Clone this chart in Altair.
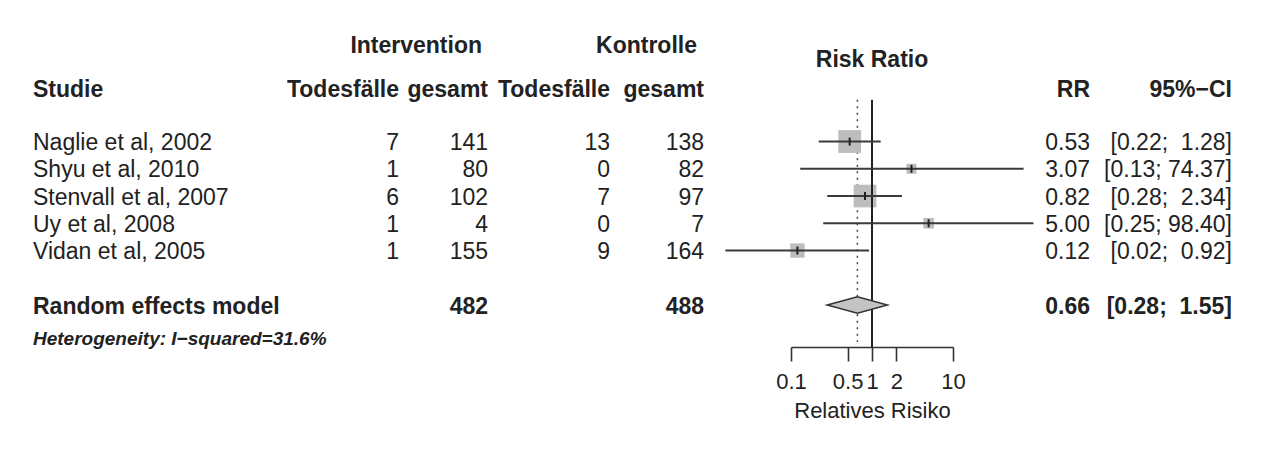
import altair as alt
import pandas as pd

# ---------------- data ----------------
studies = ["Naglie et al, 2002", "Shyu et al, 2010", "Stenvall et al, 2007",
           "Uy et al, 2008", "Vidan et al, 2005"]
int_events = [7, 1, 6, 1, 1]
int_total = [141, 80, 102, 4, 155]
ctrl_events = [13, 0, 7, 0, 9]
ctrl_total = [138, 82, 97, 7, 164]
rr = [0.53, 3.07, 0.82, 5.00, 0.12]
ci_lower = [0.22, 0.13, 0.28, 0.25, 0.0155]
ci_upper = [1.28, 74.37, 2.34, 98.40, 0.92]
weights = [35.8, 6.9, 35.4, 7.8, 14.1]
rr_labels = ["0.53", "3.07", "0.82", "5.00", "0.12"]
ci_labels = ["[0.22;\u00a0 1.28]", "[0.13; 74.37]", "[0.28;\u00a0 2.34]",
             "[0.25; 98.40]", "[0.02;\u00a0 0.92]"]

pooled_label = "Random effects model"
pooled_int_total = 482
pooled_ctrl_total = 488
pooled_rr = 0.66
pooled_lower = 0.28
pooled_upper = 1.55
pooled_rr_label = "0.66"
pooled_ci_label = "[0.28;\u00a0 1.55]"
heterogeneity = "Heterogeneity: I\u2212squared=31.6%"

axis_ticks = [0.1, 0.5, 1, 2, 10]

# ---------------- layout constants ----------------
FONT = "Liberation Sans"
TXT = "#222222"
FS = 23
W, H = 1255, 339
ROW_TOP, ROW_BOTTOM = -3.9, 8.54
ROW_HEAD_GROUP = -2.55
ROW_HEAD = -0.95
ROW_RR_TITLE = -2.05
ROW_POOLED = 7.0
ROW_HET = 8.2
LINE_TOP = -0.53
TEXT_DY = 1.5

X_NAME = 25
X_IE, X_IT, X_CE, X_CT = 391, 480, 602, 696
X_GROUP_INT, X_GROUP_CTRL = 474, 689
X_RR, X_CI = 1082, 1224

ys = alt.Scale(domain=[ROW_TOP, ROW_BOTTOM], reverse=True, nice=False, zero=False)
xs = alt.Scale(type="log", domain=[0.1, 10], range=[783, 945], nice=False)
xaxis = alt.Axis(values=axis_ticks, format="~g", title="Relatives Risiko",
                 labelFont=FONT, labelFontSize=22, labelColor=TXT,
                 titleFont=FONT, titleFontSize=22, titleFontWeight="normal",
                 titleColor=TXT, titlePadding=8,
                 domainColor="#333333", domainWidth=1.6,
                 tickColor="#333333", tickWidth=1.6, tickSize=14,
                 labelPadding=10, labelOverlap=False, labelFlush=False,
                 grid=False)

df = pd.DataFrame({
    "study": studies, "ie": int_events, "it": int_total, "ce": ctrl_events,
    "ct": ctrl_total, "rr": rr, "lo": ci_lower, "hi": ci_upper, "w": weights,
    "rr_label": rr_labels, "ci_label": ci_labels,
    "row": list(range(1, len(studies) + 1)),
})

pooled = pd.DataFrame({
    "label": [pooled_label], "it": [pooled_int_total], "ct": [pooled_ctrl_total],
    "rr": [pooled_rr], "lo": [pooled_lower], "hi": [pooled_upper],
    "rr_label": [pooled_rr_label], "ci_label": [pooled_ci_label],
    "row": [ROW_POOLED],
})

diamond_half = 0.3
diamond = pd.DataFrame({
    "x": [pooled_lower, pooled_rr, pooled_upper],
    "y": [ROW_POOLED, ROW_POOLED - diamond_half, ROW_POOLED],
    "y2": [ROW_POOLED, ROW_POOLED + diamond_half, ROW_POOLED],
})


def col_text(data, field, xpx, align, bold=False, size=FS, italic=False):
    return alt.Chart(data).mark_text(
        align=align, baseline="middle", font=FONT, fontSize=size, dy=TEXT_DY,
        fontWeight="bold" if bold else "normal",
        fontStyle="italic" if italic else "normal", color=TXT,
    ).encode(
        x=alt.value(xpx),
        y=alt.Y("row:Q", scale=ys, axis=None),
        text=alt.Text(f"{field}:N"),
    )


def label(text, row, xpx, align, bold=True, size=FS, italic=False):
    d = pd.DataFrame({"t": [text], "row": [row]})
    return col_text(d, "t", xpx, align, bold=bold, size=size, italic=italic)


layers = []

# table: study rows
layers += [
    col_text(df, "study", X_NAME, "left"),
    col_text(df, "ie", X_IE, "right"),
    col_text(df, "it", X_IT, "right"),
    col_text(df, "ce", X_CE, "right"),
    col_text(df, "ct", X_CT, "right"),
    col_text(df, "rr_label", X_RR, "right"),
    col_text(df, "ci_label", X_CI, "right"),
]

# pooled row
layers += [
    col_text(pooled, "label", X_NAME, "left", bold=True),
    col_text(pooled, "it", X_IT, "right", bold=True),
    col_text(pooled, "ct", X_CT, "right", bold=True),
    col_text(pooled, "rr_label", X_RR, "right", bold=True),
    col_text(pooled, "ci_label", X_CI, "right", bold=True),
    label(heterogeneity, ROW_HET, X_NAME, "left", bold=True, size=19, italic=True),
]

# headers
layers += [
    label("Intervention", ROW_HEAD_GROUP, X_GROUP_INT, "right"),
    label("Kontrolle", ROW_HEAD_GROUP, X_GROUP_CTRL, "right"),
    label("Studie", ROW_HEAD, X_NAME, "left"),
    label("Todesfälle", ROW_HEAD, X_IE, "right"),
    label("gesamt", ROW_HEAD, X_IT, "right"),
    label("Todesfälle", ROW_HEAD, X_CE, "right"),
    label("gesamt", ROW_HEAD, X_CT, "right"),
    label("RR", ROW_HEAD, X_RR, "right"),
    label("95%\u2212CI", ROW_HEAD, X_CI, "right"),
]

rr_title = alt.Chart(pd.DataFrame({"t": ["Risk Ratio"], "row": [ROW_RR_TITLE], "v": [1.0]})).mark_text(
    align="center", baseline="middle", font=FONT, fontSize=FS, fontWeight="bold",
    color=TXT, dy=TEXT_DY
).encode(
    x=alt.X("v:Q", scale=xs, axis=xaxis),
    y=alt.Y("row:Q", scale=ys, axis=None),
    text="t:N",
)

# forest plot
dotted = alt.Chart(pooled).mark_rule(color="#444444", strokeWidth=1.5, strokeDash=[2, 4.5]).encode(
    x=alt.X("rr:Q", scale=xs, axis=xaxis),
    y=alt.Y(datum=LINE_TOP, scale=ys, axis=None),
    y2=alt.datum(8.36),
)

squares = alt.Chart(df).mark_square(color="#bdbdbd", opacity=1).encode(
    x=alt.X("rr:Q", scale=xs, axis=xaxis),
    y=alt.Y("row:Q", scale=ys, axis=None),
    size=alt.Size("w:Q", scale=alt.Scale(domain=[0, 100], range=[0, 1453]), legend=None),
)

ref_line = alt.Chart(pd.DataFrame({"v": [1.0]})).mark_rule(color="#222222", strokeWidth=2).encode(
    x=alt.X("v:Q", scale=xs, axis=xaxis),
    y=alt.Y(datum=LINE_TOP, scale=ys, axis=None),
    y2=alt.datum(ROW_BOTTOM),
)

ci_lines = alt.Chart(df).mark_rule(color="#3a3a3a", strokeWidth=2).encode(
    x=alt.X("lo:Q", scale=xs, axis=xaxis),
    x2="hi:Q",
    y=alt.Y("row:Q", scale=ys, axis=None),
)

ticks = alt.Chart(df).mark_point(shape="M0,-1L0,1", size=64, filled=False,
                                 stroke="#222222", strokeWidth=2, opacity=1).encode(
    x=alt.X("rr:Q", scale=xs, axis=xaxis),
    y=alt.Y("row:Q", scale=ys, axis=None),
)

dia = alt.Chart(diamond).mark_area(orient="vertical", fill="#c4c4c4", stroke="#333333",
                                   strokeWidth=1.5, opacity=1).encode(
    x=alt.X("x:Q", scale=xs, axis=xaxis),
    y=alt.Y("y:Q", scale=ys, axis=None),
    y2="y2:Q",
)

chart = alt.layer(
    dotted, squares, ref_line, ci_lines, ticks, dia, rr_title, *layers
).properties(
    width=W, height=H, padding={"left": 0, "top": 0, "right": 0, "bottom": 0},
    background="white",
).configure_view(stroke=None)

chart.save("out.html", embed_options={"renderer": "svg", "actions": False})
